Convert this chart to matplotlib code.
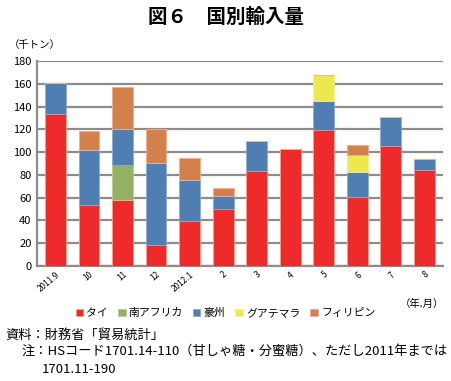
import matplotlib
matplotlib.use("Agg")
import matplotlib.pyplot as plt
import numpy as np

plt.rcParams['font.family'] = ['Noto Sans CJK JP', 'DejaVu Sans']

months = ["2011.9", "10", "11", "12", "2012.1", "2", "3", "4", "5", "6", "7", "8"]
thai = [133.5, 53.7, 58, 18, 39.8, 50, 83.3, 102.5, 119.3, 60.7, 105.4, 84.5]
south_africa = [0, 0, 30.6, 0, 0, 0, 0, 0, 0, 0, 0, 0]
australia = [27, 47.9, 31.4, 72.6, 36, 11.8, 26.2, 0, 25.9, 21.8, 25.6, 9.3]
guatemala = [0, 0, 0, 0, 0, 0, 0, 0, 22.3, 15.1, 0, 0]
philippines = [0, 16.6, 36.8, 29.6, 19.2, 6.4, 0, 0, 0, 9, 0, 0]

series_names = ["タイ", "南アフリカ", "豪州", "グアテマラ", "フィリピン"]
series = [thai, south_africa, australia, guatemala, philippines]
colors = ["#EE2A2B", "#93B064", "#4F7EB3", "#ECE84E", "#D4804C"]
edges = ["#F5A08A", "#B8CC98", "#8FAAD0", "#F3F096", "#E8B090"]

fig = plt.figure(figsize=(4.51, 3.81), dpi=100)
ax = fig.add_axes([0.082, 0.302, 0.90, 0.538])

x = np.arange(len(months))
bottom = np.zeros(len(months))
handles = []
for name, vals, c, ec in zip(series_names, series, colors, edges):
    v = np.array(vals, dtype=float)
    b = ax.bar(x, v, 0.62, bottom=bottom, color=c, edgecolor=ec, linewidth=0.6, label=name, zorder=3)
    handles.append(b)
    bottom += v

ax.set_ylim(0, 180)
ax.set_xlim(-0.55, len(months) - 0.45)
ax.set_yticks(np.arange(0, 181, 20))
ax.yaxis.grid(True, color="#8C8C8C", linewidth=1.6, zorder=0)
ax.set_axisbelow(True)
for s in ["top", "right"]:
    ax.spines[s].set_visible(False)
for s in ["left", "bottom"]:
    ax.spines[s].set_color("#8C8C8C")
    ax.spines[s].set_linewidth(1.6)
ax.tick_params(axis="y", length=0, labelsize=8, pad=4)
ax.tick_params(axis="x", length=0, labelsize=6, pad=3)
ax.set_xticks(x)
ax.set_xticklabels(months, rotation=40, ha="right", rotation_mode="anchor")

fig.text(0.5, 0.955, "図６　国別輸入量", ha="center", va="center", fontsize=14, fontweight="bold")
fig.text(0.02, 0.882, "（千トン）", ha="left", va="center", fontsize=7.5)
fig.text(0.985, 0.203, "（年.月）", ha="right", va="center", fontsize=7.5)

leg = fig.legend(handles=handles, labels=series_names, loc="center", bbox_to_anchor=(0.5, 0.178),
                 ncol=5, frameon=False, fontsize=7.8, handlelength=0.7, handleheight=0.7,
                 handletextpad=0.3, columnspacing=0.9)

fig.text(0.012, 0.121, "資料：財務省「貿易統計」", ha="left", va="center", fontsize=9.5)
fig.text(0.048, 0.076, "注：HSコード1701.14-110（甘しゃ糖・分蜜糖）、ただし2011年までは", ha="left", va="center", fontsize=9.5)
fig.text(0.093, 0.031, "1701.11-190", ha="left", va="center", fontsize=9.5)

fig.savefig("out.png", dpi=100)
